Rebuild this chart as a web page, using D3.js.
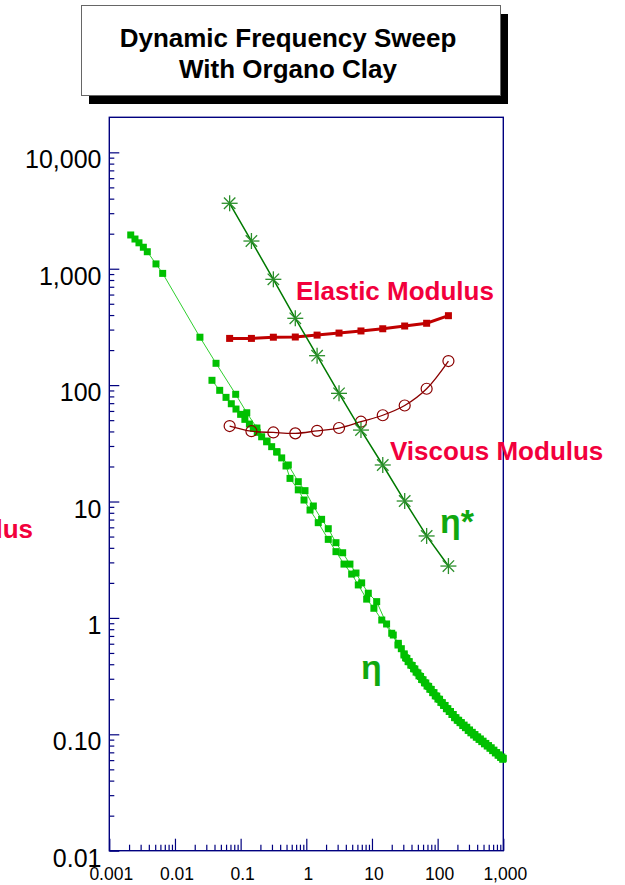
<!DOCTYPE html>
<html>
<head>
<meta charset="utf-8">
<script src="https://cdn.jsdelivr.net/npm/d3@7"></script>
<style>
  html, body { margin: 0; padding: 0; background: #fff; }
  svg { display: block; font-family: "Liberation Sans", Arial, sans-serif; }
</style>
</head>
<body>
<svg id="chart" width="625" height="885"></svg>
<script>
// ---------- data ----------
const titleLines = ["Dynamic Frequency Sweep", "With Organo Clay"];

const xTickValues = [0.001, 0.01, 0.1, 1, 10, 100, 1000];
const xTickLabels = ["0.001", "0.01", "0.1", "1", "10", "100", "1,000"];
const yTickValues = [0.01, 0.1, 1, 10, 100, 1000, 10000];
const yTickLabels = ["0.01", "0.10", "1", "10", "100", "1,000", "10,000"];

// oscillatory frequency sweep
const freq = [0.068, 0.146, 0.315, 0.68, 1.46, 3.15, 6.8, 14.6, 31.5, 68, 146];
const elasticModulus = [252, 252, 258, 259, 269, 280, 292, 305, 322, 340, 395];
const viscousModulus = [44.5, 40.2, 39.2, 38.5, 40.5, 42.8, 48.5, 55.1, 66.8, 93.1, 161];
const complexViscosity = [3650, 1730, 811, 375, 179, 85, 41.1, 20.6, 10.1, 5.06, 2.79];

// steady shear viscosity, run 1
const etaRun1Rate = [0.00212, 0.00246, 0.00283, 0.0033, 0.00379, 0.00514, 0.0065, 0.024, 0.0422, 0.0841,
  0.124, 0.177, 0.252, 0.358, 0.532, 0.755, 0.955, 1.28, 1.71, 2.16, 2.83, 3.58, 4.62, 5.71, 6.97, 8.79,
  11.8, 16.7, 21.1, 25.2, 28, 31, 34, 37, 41, 45, 50, 55, 60, 66, 73, 80, 88, 97, 107, 118, 130, 143,
  157, 173, 190, 209, 230, 253, 278, 306, 337, 370, 407, 448, 492, 542, 596, 655, 720, 792, 870, 950, 1000];
const etaRun1Visc = [1950, 1800, 1670, 1530, 1400, 1100, 912, 258, 154, 83.4,
  57.9, 42.8, 33.1, 26.6, 20.6, 14.8, 12.4, 9.15, 7.03, 5.84, 4.43, 3.63, 2.90, 2.43, 2.00, 1.63,
  1.38, 0.887, 0.713, 0.605, 0.544, 0.491, 0.449, 0.421, 0.390, 0.364, 0.337, 0.314, 0.294, 0.276, 0.258, 0.243, 0.228, 0.213, 0.200, 0.187, 0.177, 0.166,
  0.157, 0.148, 0.139, 0.132, 0.126, 0.120, 0.115, 0.109, 0.104, 0.0995, 0.0951, 0.0912, 0.0873, 0.0835, 0.0800, 0.0766, 0.0731, 0.0697, 0.0665, 0.0638, 0.0622];

// steady shear viscosity, run 2
const etaRun2Rate = [0.0366, 0.048, 0.0599, 0.0721, 0.085, 0.100, 0.116, 0.136, 0.156, 0.179, 0.209, 0.249,
  0.297, 0.354, 0.422, 0.491, 0.565, 0.755, 0.923, 1.14, 1.52, 2.16, 2.83, 3.75, 4.91, 6.19, 8.31, 10.7,
  14.1, 20.0, 24.9, 30.7, 32.5, 35.5, 39, 43, 47, 52, 57, 63, 69, 76, 84, 92, 101, 112, 123, 136, 150,
  165, 181, 199, 219, 241, 265, 292, 321, 353, 388, 427, 470, 517, 569, 626, 688, 757, 833, 910, 980];
const etaRun2Visc = [110, 90.2, 78.5, 69.2, 62.3, 56.1, 50.8, 46.3, 42.6, 39.3, 36.0, 32.6,
  29.6, 26.8, 23.7, 20.2, 15.8, 12.6, 10.3, 8.45, 6.58, 4.73, 3.71, 2.90, 2.38, 1.92, 1.45, 1.21,
  0.959, 0.738, 0.585, 0.48, 0.454, 0.421, 0.393, 0.366, 0.342, 0.318, 0.296, 0.277, 0.260, 0.244, 0.228, 0.214, 0.201, 0.188, 0.177, 0.166, 0.157,
  0.148, 0.139, 0.132, 0.126, 0.119, 0.114, 0.108, 0.103, 0.0986, 0.0944, 0.0904, 0.0865, 0.0828, 0.0793, 0.0759, 0.0724, 0.0692, 0.0661, 0.0633, 0.0610];

// ---------- layout ----------
const svg = d3.select("#chart");
const plot = { left: 109.3, right: 503.3, top: 117.3, bottom: 850.7 };

const x = d3.scaleLog().domain([0.001, 1000]).range([plot.left, plot.right]);
const y = d3.scaleLog().domain([0.01, 20000]).range([plot.bottom, plot.top]);

const navy = "#00007f";

// ---------- title box ----------
svg.append("rect").attr("x", 89).attr("y", 14).attr("width", 419).attr("height", 90).attr("fill", "#000");
svg.append("rect").attr("x", 81.5).attr("y", 5.5).attr("width", 419).attr("height", 90)
  .attr("fill", "#fff").attr("stroke", "#666").attr("stroke-width", 1);
svg.append("g").selectAll("text").data(titleLines).join("text")
  .attr("x", 288).attr("y", (d, i) => 46.5 + i * 31.5)
  .attr("text-anchor", "middle").attr("font-size", 26).attr("font-weight", "bold")
  .attr("fill", "#000").text(d => d);

// ---------- frame ----------
svg.append("rect")
  .attr("x", plot.left).attr("y", plot.top)
  .attr("width", plot.right - plot.left).attr("height", plot.bottom - plot.top)
  .attr("fill", "none").attr("stroke", navy).attr("stroke-width", 1.4);

// ---------- axes (ticks pointing inward) ----------
const isMajor = v => Math.abs(Math.log10(v) - Math.round(Math.log10(v))) < 1e-9;
const yMinor = y.ticks().filter(v => !isMajor(v) && v < 20000);
const xMinor = x.ticks().filter(v => !isMajor(v));

function styleAxis(g) {
  g.select(".domain").remove();
  g.selectAll(".tick line").attr("stroke", navy).attr("stroke-width", 1.2);
  g.selectAll(".tick text").remove();
}

svg.append("g").attr("transform", `translate(${plot.left},0)`)
  .call(d3.axisRight(y).tickValues(yTickValues).tickSize(10).tickFormat(""))
  .call(styleAxis);
svg.append("g").attr("transform", `translate(${plot.left},0)`)
  .call(d3.axisRight(y).tickValues(yMinor).tickSize(5).tickFormat(""))
  .call(styleAxis);
svg.append("g").attr("transform", `translate(0,${plot.bottom})`)
  .call(d3.axisTop(x).tickValues(xTickValues).tickSize(12).tickFormat(""))
  .call(styleAxis);
svg.append("g").attr("transform", `translate(0,${plot.bottom})`)
  .call(d3.axisTop(x).tickValues(xMinor).tickSize(6).tickFormat(""))
  .call(styleAxis);

// tick labels
svg.append("g").selectAll("text").data(yTickValues).join("text")
  .attr("x", 101.5).attr("y", d => y(d) + 16)
  .attr("text-anchor", "end").attr("font-size", 25).attr("fill", "#000")
  .text((d, i) => yTickLabels[i]);
svg.append("g").selectAll("text").data(xTickValues).join("text")
  .attr("x", d => x(d) + 2).attr("y", 879.5)
  .attr("text-anchor", "middle").attr("font-size", 17.5).attr("fill", "#000")
  .text((d, i) => xTickLabels[i]);

// ---------- series ----------
const line = d3.line().x(d => x(d[0])).y(d => y(d[1]));
const smooth = d3.line().x(d => x(d[0])).y(d => y(d[1])).curve(d3.curveCatmullRom.alpha(0.5));

const etaGreen = "#00c000";
const etaLineGreen = "#2fcf2f";
const run1 = etaRun1Rate.map((r, i) => [r, etaRun1Visc[i]]);
const run2 = etaRun2Rate.map((r, i) => [r, etaRun2Visc[i]]);

[run1, run2].forEach(run => {
  svg.append("path").datum(run).attr("d", line)
    .attr("fill", "none").attr("stroke", etaLineGreen).attr("stroke-width", 1);
});
[run1, run2].forEach(run => {
  svg.append("g").selectAll("rect").data(run).join("rect")
    .attr("x", d => x(d[0]) - 3.5).attr("y", d => y(d[1]) - 3.5)
    .attr("width", 7).attr("height", 7).attr("fill", etaGreen);
});

// elastic modulus
const elastic = freq.map((f, i) => [f, elasticModulus[i]]);
svg.append("path").datum(elastic).attr("d", line)
  .attr("fill", "none").attr("stroke", "#c00000").attr("stroke-width", 3);
svg.append("g").selectAll("rect").data(elastic).join("rect")
  .attr("x", d => x(d[0]) - 3.5).attr("y", d => y(d[1]) - 3.5)
  .attr("width", 7).attr("height", 7).attr("fill", "#c00000");

// viscous modulus
const viscous = freq.map((f, i) => [f, viscousModulus[i]]);
svg.append("path").datum(viscous).attr("d", smooth)
  .attr("fill", "none").attr("stroke", "#8a0000").attr("stroke-width", 1.3);
svg.append("g").selectAll("circle").data(viscous).join("circle")
  .attr("cx", d => x(d[0])).attr("cy", d => y(d[1])).attr("r", 5.5)
  .attr("fill", "none").attr("stroke", "#8a0000").attr("stroke-width", 1.2);

// complex viscosity
const etaStar = freq.map((f, i) => [f, complexViscosity[i]]);
svg.append("path").datum(etaStar).attr("d", line)
  .attr("fill", "none").attr("stroke", "#007a00").attr("stroke-width", 1.5);
const starSpokes = [[-8, 0, 8, 0], [0, -8, 0, 8], [-5.7, -5.7, 5.7, 5.7], [-5.7, 5.7, 5.7, -5.7]];
const stars = svg.append("g").selectAll("g").data(etaStar).join("g")
  .attr("transform", d => `translate(${x(d[0])},${y(d[1])})`);
stars.selectAll("line").data(starSpokes).join("line")
  .attr("x1", s => s[0]).attr("y1", s => s[1]).attr("x2", s => s[2]).attr("y2", s => s[3])
  .attr("stroke", "#2a8f2a").attr("stroke-width", 1.3);

// ---------- annotations ----------
const red = "#f2003c";
svg.append("text").attr("x", 296).attr("y", 299.5).attr("font-size", 26).attr("font-weight", "bold")
  .attr("fill", red).text("Elastic Modulus");
svg.append("text").attr("x", 390).attr("y", 460).attr("font-size", 26).attr("font-weight", "bold")
  .attr("fill", red).text("Viscous Modulus");
svg.append("text").attr("x", 33).attr("y", 538).attr("text-anchor", "end").attr("font-size", 26).attr("font-weight", "bold")
  .attr("fill", red).text("Modulus");
svg.append("text").attr("x", 440).attr("y", 533).attr("font-size", 34).attr("font-weight", "bold")
  .attr("fill", "#10a810").text("η*");
svg.append("text").attr("x", 361).attr("y", 679).attr("font-size", 34).attr("font-weight", "bold")
  .attr("fill", "#10a810").text("η");
</script>
</body>
</html>
